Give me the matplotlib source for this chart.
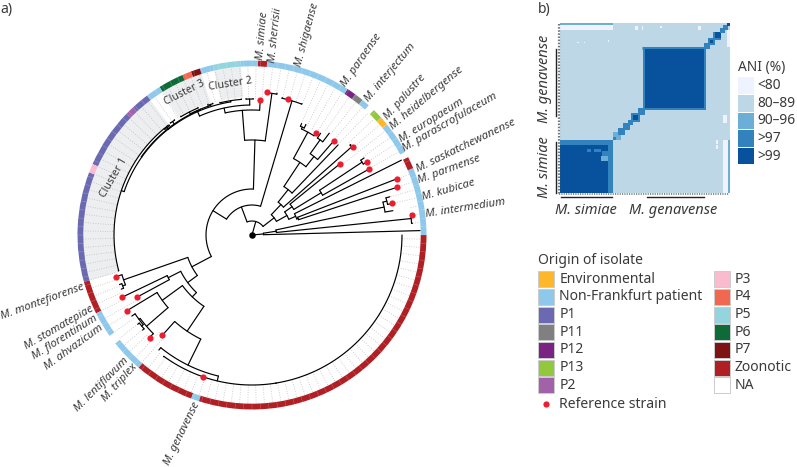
import matplotlib
matplotlib.use("Agg")
import matplotlib.pyplot as plt
import numpy as np
from matplotlib.colors import ListedColormap, BoundaryNorm
from matplotlib.patches import Wedge, Rectangle

plt.rcParams['font.family'] = ['Noto Sans', 'DejaVu Sans']
TXT = '#3a3a3a'

# origin colours
origin_colors = {
    'Environmental': '#FDB72A', 'Non-Frankfurt patient': '#8EC9EC', 'P1': '#6B69B1',
    'P11': '#808080', 'P12': '#7A2382', 'P13': '#93C83E', 'P2': '#A262AA',
    'P3': '#F9BBCD', 'P4': '#F1674F', 'P5': '#93D4DF', 'P6': '#0E6B38',
    'P7': '#7D1315', 'Zoonotic': '#B01F24', 'NA': '#FFFFFF',
}
legend_col1 = ['Environmental', 'Non-Frankfurt patient', 'P1', 'P11', 'P12', 'P13', 'P2']
legend_col2 = ['P3', 'P4', 'P5', 'P6', 'P7', 'Zoonotic', 'NA']

# ring, read anticlockwise from east
ring_origin = ['Non-Frankfurt patient', 'Zoonotic', 'NA', 'Non-Frankfurt patient', 'Environmental', 'P13', 'NA',
               'Non-Frankfurt patient', 'P11', 'P12', 'Non-Frankfurt patient', 'Zoonotic', 'Non-Frankfurt patient',
               'P5', 'Non-Frankfurt patient', 'P7', 'P4', 'P6', 'Non-Frankfurt patient', 'P1', 'P2', 'P1', 'P3', 'P1',
               'Zoonotic', 'Non-Frankfurt patient', 'NA', 'Non-Frankfurt patient', 'Zoonotic',
               'Non-Frankfurt patient', 'Zoonotic']
ring_edges = [0, 22.5, 26.5, 28.5, 39.3, 42.3, 45.7, 48, 50.7, 53.7, 56.8, 85, 88, 93.7, 103, 107.4, 110.5, 113.5,
              122, 127, 133, 136, 156, 159, 195.6, 206.7, 215.3, 218.4, 229.5, 249.6, 252.3, 360]

# tree: tip = (radius, angle), node = (radius, [children])
c1_outer = (138, [(138.5, 195), (138.2, 127.5)])
c1 = (135, [c1_outer, (137, [(138, 129.5), (138, 127)])])
c3 = (136, [(138, [(138.5, 121), (138.5, 113)]), (137, [(138, 108.7), (137.5, 106.6)])])
c_rest = (135.5, [c3, (138.5, [(139, 126), (139, 124)]), c1])
c2 = (136, [(136.5, 103.6), (136.5, 94.5)])
mega = (130, [(136, [(136.5, 92.5), (136.5, 89.5)]), (134.8, [c2, c_rest])])
upper = (95, [(125, [mega, (135, 86.5)]), (143, [(144, 84), (144, 80)])])

top_a = (117, [(119, [(122, 66), (123, 64)]), (120.5, 58)])
top_b = (100, [(117, [(122.7, 56), (127.8, 52.8)]), (125, 49)])
top_clade = (58, [(87, [top_a, top_b]), (124.6, 46.3)])
mid_a = (49, [(112.8, 39), (81, [(132, [(136, 34.5), (136, 32.5)]), (134, 29.4)])])
mid_b = (47.5, [(167, 26.6), (49, [(155, 21.2), (152.4, 18.2)])])
right = (28, [(42, [top_clade, (133, [(134, 42.5), (134, 40.5)])]), (40, [mid_a, mid_b])])
low = (11.5, [(24.5, [(135, [(139, [(143, 15.5), (144, 12.7)]), (143, 9.8)]),
                      (160, [(161, 7.6), (161, 4.2)])]), (168, 1.5)])

left_a = (136, [(142.5, 197), (139, [(141.5, 200.5), (141.5, 202.5)])])
left_b = (111, [(146.5, 211.2), (139.5, [(141, [(145, 214), (143, [(145, 218), (145, 221)])]), (145, 225)])])
left_c = (116, [(134.3, 228.2), (145, [(148, 231), (150, [(150.5, 234), (149.8, 251), (150.5, 279.2)])])])
left = (68, [left_a, (80, [(94, [(144.4, 205.6), (131, 208.4)]), (86, [(108, [left_b]), left_c])])])

tree = (0, [(14, [(30, [(46, [upper, left]), (140, [(140.7, 77.6), (140.7, 75), (140.7, 69.2)])]), right]), low])
extra_arcs = [(150, 279.2, 360)]

ref_r = [135, 144, 140.7, 120.5, 125, 134, 112.8, 136, 134, 155, 152.4, 144, 161,
         142.5, 144.4, 131, 146.5, 145, 134.3, 149.8]
ref_angle = [86.5, 84, 75, 58, 49, 41, 39, 32.5, 29.4, 21.2, 18.2, 12.7, 7.2,
             197, 205.6, 208.4, 211.2, 225.2, 228.2, 251]

# where the dotted guides start: (from angle, to angle, radius)
guide_table = [(0, 3, 168), (3, 10, 161), (10, 16, 144), (16, 23, 155), (23, 28, 167), (28, 37, 136), (37, 40, 113),
               (40, 44, 134), (44, 48, 125), (48, 51, 125), (51, 57, 128), (57, 68, 122), (68, 80, 141), (80, 85, 144),
               (85, 92, 136), (92, 104, 137), (104, 122, 138), (122, 195, 139), (195, 203, 142), (203, 207, 144),
               (207, 210, 131), (210, 214, 146), (214, 226, 145), (226, 232, 134), (232, 360, 150)]

cluster_names = ['Cluster 1', 'Cluster 2', 'Cluster 3']
cluster_from = [127, 93.7, 107.4]
cluster_to = [195.6, 103, 122]

species = ['M. simiae', 'M. sherrisii', 'M. shigaense', 'M. paraense', 'M. interjectum', 'M. palustre',
           'M. heidelbergense', 'M. europaeum', 'M. parascrofulaceum', 'M. saskatchewanense', 'M. parmense',
           'M. kubicae', 'M. intermedium', 'M. montefiorense', 'M. stomatepiae', 'M. florentinum', 'M. ahvazicum',
           'M. lentiflavum', 'M. triplex', 'M. genavense']
species_x = [262.7, 275, 306.7, 361, 390.3, 405, 426.7, 431.7, 450, 465.8, 449, 449, 465,
             42.5, 59, 65, 74, 101.7, 120, 182]
species_y = [36, 35, 34.5, 60, 73, 97, 98, 121, 122, 146, 170, 190, 208, 301.7, 328, 337, 347, 385, 383, 434]
species_rot = [85, 84, 75, 55, 50, 48, 40, 32, 30, 26, 20, 16, 9, 20, 30, 32, 36, 45, 48, 64]

# heatmap: (x0, x1, y0, y1, level), y counted from the bottom
ani_labels = ['<80', '80–89', '90–96', '>97', '>99']
ani_colors = ['#eff3ff', '#bdd7e7', '#6baed6', '#3182bd', '#08519c']
ani_default = 1
ani_blocks = [
    (0, 31, 0, 31, 3), (0, 28, 0, 28, 4), (20, 24, 24, 26, 3), (24, 28, 19, 22, 2), (25, 28, 22, 25, 3),
    (16, 18, 24, 26, 3), (31, 36, 31, 36, 2), (31, 33, 31, 33, 3), (34, 38, 34, 38, 3), (37, 41, 37, 41, 3),
    (40, 43, 40, 43, 3), (42, 47, 42, 47, 3), (43, 46, 43, 46, 4), (46, 50, 46, 50, 3), (49, 86, 49, 86, 3),
    (50, 85, 50, 85, 4), (85, 88, 85, 88, 3), (87.5, 90.5, 87.5, 90.5, 3), (88, 90, 88, 90, 4),
    (90.5, 95, 90.5, 95, 3), (91, 94.5, 91, 94.5, 4), (94.5, 97, 94.5, 97, 3), (96.5, 98.5, 96.5, 98.5, 3),
    (98, 100, 98, 100, 4),
    (0, 31, 98.5, 100, 2), (0, 31, 96.5, 98.5, 0), (98.5, 100, 0, 31, 2), (96.5, 98.5, 0, 31, 0),
    (44, 46, 96.5, 98, 0), (48, 49, 96.5, 98, 0), (59, 60, 97, 98, 0), (81, 82, 96.5, 98, 0), (82, 83, 96.5, 98, 0),
    (10, 11, 88, 89, 0), (14, 15, 88, 89, 0), (28, 29, 89, 90, 0), (98, 100, 86, 96, 0),
    (96, 98, 41, 46, 0), (92, 93, 26, 28, 0), (92, 93, 29, 31, 0), (48, 49, 84, 86, 2),
]


def pol(r, a):
    t = np.deg2rad(a)
    return CX + r * np.cos(t), CY + r * np.sin(t)


def node_angle(n):
    if isinstance(n[1], list):
        kids = [node_angle(k) for k in n[1]]
        return (min(kids) + max(kids)) / 2
    return n[1]


def draw_arc(r, a0, a1):
    a = np.linspace(a0, a1, max(int(abs(a1 - a0)) * 2, 2))
    x, y = pol(r, a)
    ax.plot(x, y, color='black', lw=0.85, solid_capstyle='round')


def draw_node(n, parent_r):
    ang = node_angle(n)
    x, y = pol(np.array([parent_r, n[0]]), ang)
    ax.plot(x, y, color='black', lw=0.85, solid_capstyle='round')
    if isinstance(n[1], list):
        kids = [node_angle(k) for k in n[1]]
        draw_arc(n[0], min(kids), max(kids))
        for k in n[1]:
            draw_node(k, n[0])


W, H = 797, 467
CX, CY = 252, H - 235
R_IN, R_OUT = 168.7, 174.5
STEP = 360 / 128

fig = plt.figure(figsize=(W / 100, H / 100), dpi=100)
ax = fig.add_axes([0, 0, 1, 1])

# panel b
ani = np.full((100, 100), ani_default)
for x0, x1, y0, y1, lev in ani_blocks:
    ani[int(y0):int(np.ceil(y1)), int(x0):int(np.ceil(x1))] = lev
cmap = ListedColormap(ani_colors)
ax.imshow(ani, origin='lower', extent=(560, 729.3, H - 193.3, H - 24), cmap=cmap,
          norm=BoundaryNorm(np.arange(-0.5, 5.5), 5), aspect='auto', interpolation='nearest')
ax.plot([558.8, 558.8], [H - 24, H - 194], color='#777777', lw=1.6, ls=(0, (0.7, 0.7)))
ax.plot([559, 729.5], [H - 194, H - 194], color='#777777', lw=1.2, ls=(0, (0.7, 0.7)))
ax.plot([556, 556], [H - 49, H - 116], color='#222222', lw=1)
ax.plot([556, 556], [H - 142, H - 193], color='#222222', lw=1)
ax.plot([560.7, 611.7], [H - 197, H - 197], color='#222222', lw=1)
ax.plot([646.7, 704], [H - 197, H - 197], color='#222222', lw=1)

fs = 10.5
leg_fs = 10.05
sp = dict(color=TXT, style='italic', ha='center', va='center', rotation_mode='anchor')
ax.text(545, H - 79, 'M. genavense', fontsize=fs, rotation=90, **sp)
ax.text(545, H - 167, 'M. simiae', fontsize=fs, rotation=90, **sp)
ax.text(585.7, H - 211, 'M. simiae', fontsize=fs, **sp)
ax.text(673, H - 211, 'M. genavense', fontsize=fs, **sp)

ax.text(738, H - 67, 'ANI (%)', fontsize=9.9, color=TXT, va='center')
for i, (lab, col) in enumerate(zip(ani_labels, ani_colors)):
    ytop = 77.3 + i * 17.6
    ax.add_patch(Rectangle((738, H - ytop - 16.6), 16, 16.6, fc=col, ec='none'))
    ax.text(757, H - ytop - 8.3, lab, fontsize=9.9, color=TXT, va='center')

# legend of origins
ax.text(538, H - 261, 'Origin of isolate', fontsize=leg_fs, color=TXT, va='center')
for col_names, xs, xt in [(legend_col1, 538.3, 559.5), (legend_col2, 714.3, 735)]:
    for i, name in enumerate(col_names):
        yc = 279.3 + i * 17.65
        ax.add_patch(Rectangle((xs, H - yc - 8), 16, 16, fc=origin_colors[name], ec='#cccccc', lw=0.7))
        ax.text(xt, H - yc, name, fontsize=leg_fs, color=TXT, va='center')
ax.scatter([546], [H - 404], s=20, color='#EE1C2E', lw=0, zorder=5)
ax.text(559.5, H - 404, 'Reference strain', fontsize=leg_fs, color=TXT, va='center')

# panel a
for a0, a1 in zip(cluster_from, cluster_to):
    ax.add_patch(Wedge((CX, CY), R_IN, a0, a1, width=R_IN - 138, fc='#eceef0', ec='none', zorder=1))

for tip in np.arange(STEP / 2, 360, STEP):
    for a0, a1, r0 in guide_table:
        if a0 <= tip < a1:
            x, y = pol(np.array([r0, R_IN]), tip)
            ax.plot(x, y, color='#b5b5b5', lw=0.55, ls=(0, (1, 2.2)), zorder=1.5)
            break

for i, name in enumerate(ring_origin):
    if name == 'NA':
        continue
    ax.add_patch(Wedge((CX, CY), R_OUT, ring_edges[i], ring_edges[i + 1], width=R_OUT - R_IN,
                       fc=origin_colors[name], ec='none', zorder=2))
for a in np.arange(0, 360, STEP):
    x, y = pol(np.array([R_IN, R_OUT]), a)
    ax.plot(x, y, color='white', lw=0.3, alpha=0.35, zorder=2.1)

draw_node(tree, 0)
for r, a0, a1 in extra_arcs:
    draw_arc(r, a0, a1)

rx, ry = pol(np.array(ref_r), np.array(ref_angle))
ax.scatter(rx, ry, s=20, color='#EE1C2E', lw=0, zorder=5)
ax.scatter([CX], [CY], s=22, color='black', lw=0, zorder=5)

for name, x, y, rot in zip(species, species_x, species_y, species_rot):
    ax.text(x, H - y, name, fontsize=8.2, rotation=rot, **sp)

ax.text(114, H - 178, 'Cluster 1', fontsize=7.6, rotation=60, color=TXT, ha='center', va='center')
ax.text(230.7, H - 84, 'Cluster 2', fontsize=7.6, rotation=9, color=TXT, ha='center', va='center')
ax.text(184, H - 93, 'Cluster 3', fontsize=7.6, rotation=27, color=TXT, ha='center', va='center')
ax.text(0, H - 9, 'a)', fontsize=leg_fs, color=TXT, va='center')
ax.text(538, H - 9, 'b)', fontsize=leg_fs, color=TXT, va='center')

ax.set_xlim(0, W)
ax.set_ylim(0, H)
ax.set_axis_off()
fig.savefig('out.png', dpi=100)
